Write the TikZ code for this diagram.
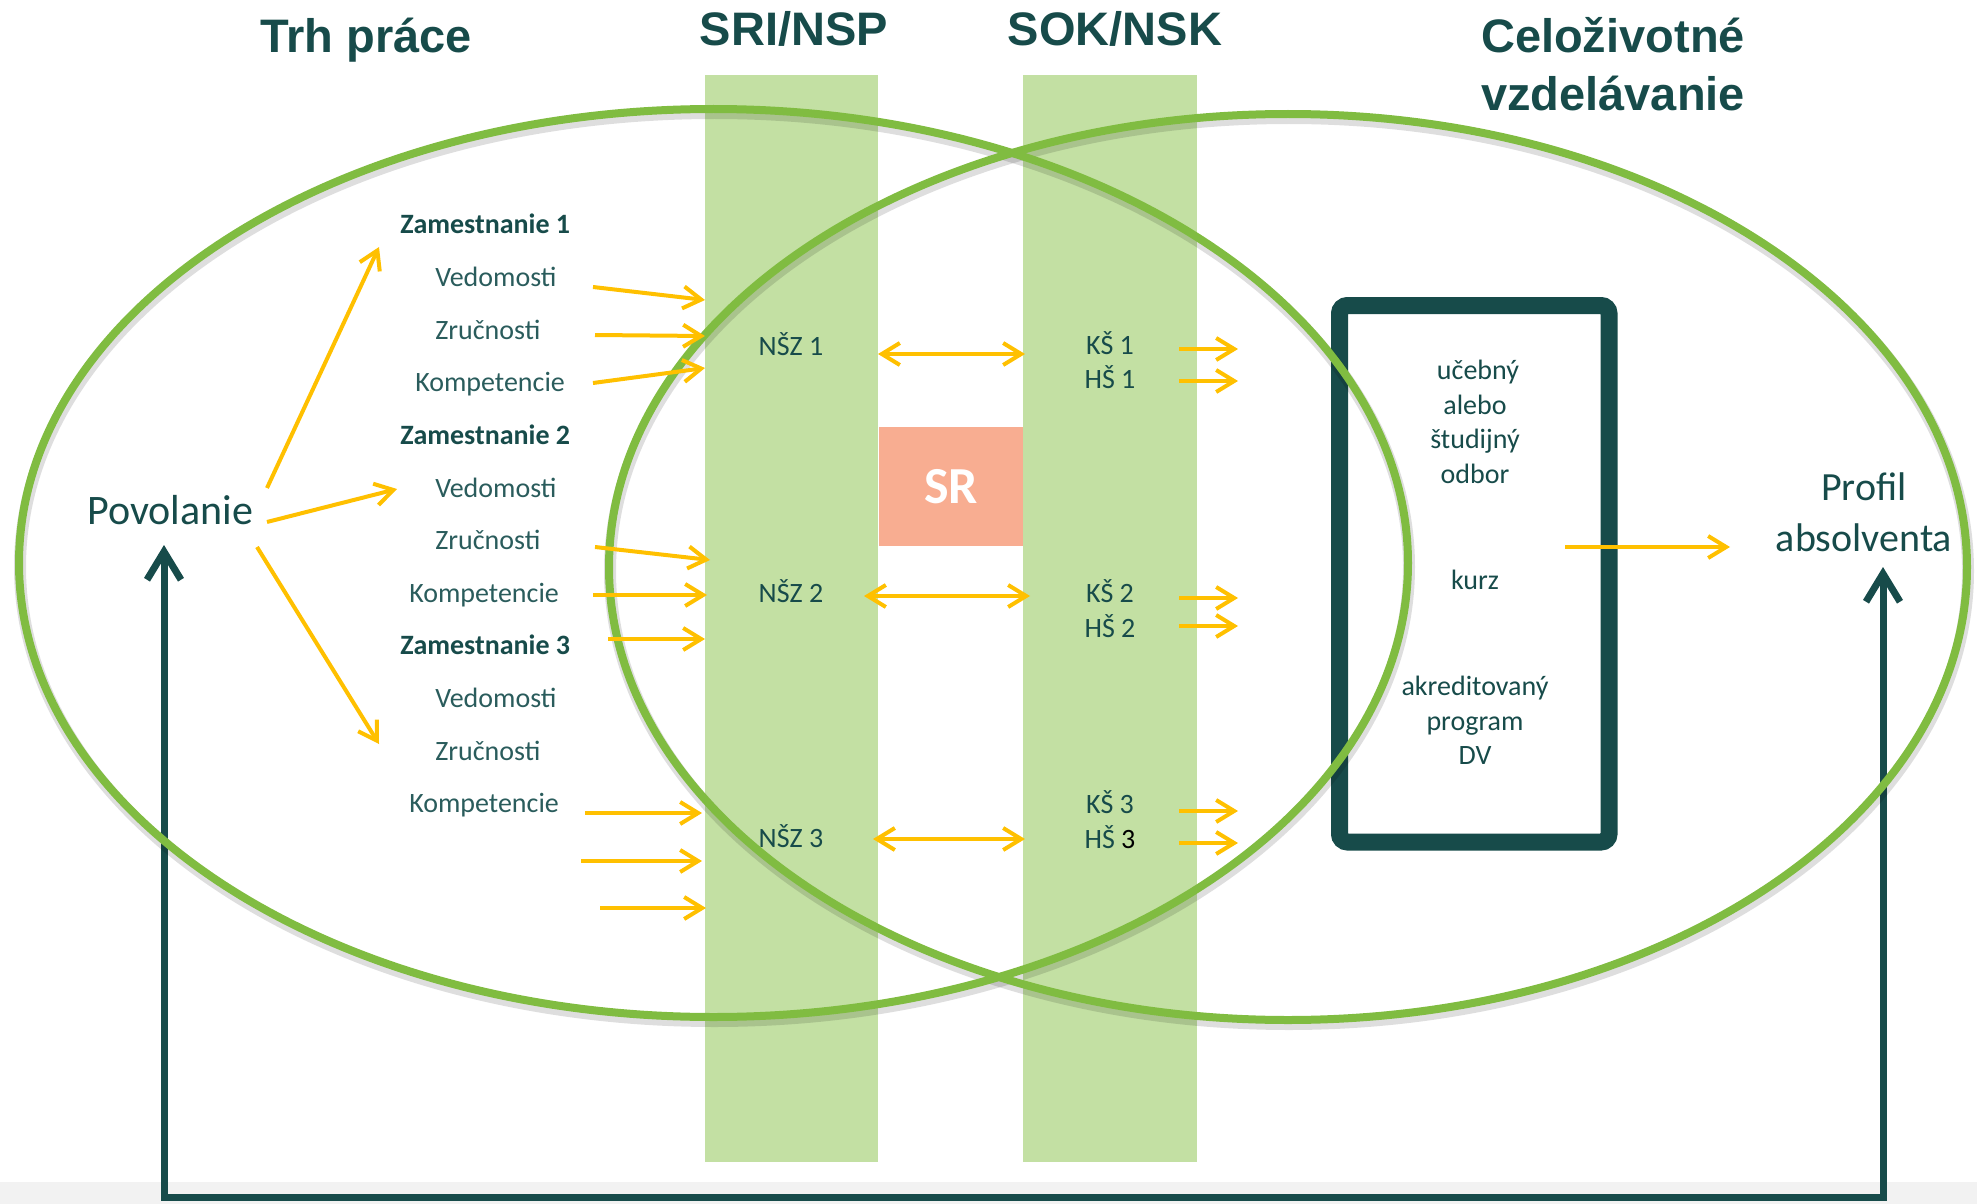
\documentclass[tikz,border=0pt]{standalone}
\usepackage{fontspec}
\setmainfont{Carlito}
\newfontfamily\headfont{Liberation Sans}
\usetikzlibrary{arrows.meta}

\tikzset{every picture/.style={line width=0.75pt}}
\definecolor{darkteal}{RGB}{23,75,74}
\definecolor{softteal}{RGB}{42,92,92}
\definecolor{ringgreen}{RGB}{128,188,65}
\definecolor{bargreen}{RGB}{195,224,163}
\definecolor{arrowgold}{RGB}{255,192,0}
\definecolor{salmon}{RGB}{248,173,145}

\tikzset{
  headtxt/.style={anchor=base, inner sep=0.75pt, font=\headfont\bfseries\fontsize{23.5}{28}\selectfont, color=darkteal},
  bodytxt/.style={anchor=base west, inner sep=0.75pt, font=\fontsize{14}{17}\selectfont, color=softteal},
  jobtxt/.style={bodytxt, font=\bfseries\fontsize{14}{17}\selectfont, color=darkteal},
  coltxt/.style={anchor=base, inner sep=0.75pt, font=\fontsize{14}{17}\selectfont, color=darkteal},
  bigtxt/.style={anchor=base, inner sep=0.75pt, font=\fontsize{20}{25}\selectfont, color=darkteal},
  goldarrow/.style={draw=arrowgold, line width=2pt, -{Straight Barb[length=9pt,width=11pt]}},
  goldboth/.style={goldarrow, {Straight Barb[length=9pt,width=11pt]}-{Straight Barb[length=9pt,width=11pt]}},
  backarrow/.style={draw=darkteal, line width=3.5pt, {Straight Barb[length=14pt,width=17pt]}-{Straight Barb[length=14pt,width=17pt]}},
  ring/.style={draw=ringgreen, line width=4pt},
  ringshade/.style={draw=black, opacity=0.13, line width=6pt},
}

\def \rowBase {234}
\def \rowStep {52.6}
\def \barTop {75}
\def \barBot {1162}
\def \inEnd {705}
\def \outXOne {1179}
\def \outXTwo {1238}

\begin{document}
\begin{tikzpicture}[x=0.5pt,y=0.5pt,yscale=-1,xscale=1]
\useasboundingbox (0,0) rectangle (1977,1204);

	%Shape: bottom band
	\fill [gray!10] (0,1182) rectangle (1977,1204);

	%Shape: columns
	\fill [bargreen] (705,\barTop) rectangle (878,\barBot);
	\fill [bargreen] (1023,\barTop) rectangle (1197,\barBot);

	%Shape: SR box
	\draw (951,486.5) node [fill=salmon, inner sep=0pt, minimum width=72pt, minimum height=59.5pt, text=white, font=\bfseries\fontsize{26}{30}\selectfont] (sr) {SR};

	%Shape: program box
	\draw (1474.25,573.75) node [draw=darkteal, line width=8.5pt, rounded corners=4pt, minimum width=134.75pt, minimum height=268.25pt] (prog) {};

	% Feedback connector
	\coordinate (fbL) at (164,545);
	\coordinate (fbLB) at (164,1197);
	\coordinate (fbRB) at (1883,1197);
	\coordinate (fbR) at (1883,567);
	\draw [backarrow] (fbL) -- (fbLB) -- (fbRB) -- (fbR);

	%Shape: Ellipses
	\draw [ringshade] (714.5,567) ellipse [x radius=694.5, y radius=454];
	\draw [ringshade] (1289,571) ellipse [x radius=679, y radius=453];
	\draw [ring] (713.5,563) ellipse [x radius=694.5, y radius=454];
	\draw [ring] (1288,567) ellipse [x radius=679, y radius=453];

	% Text Node: titles
	\draw (366,53) node [headtxt] (tTrh) {Trh práce};
	\draw (794,46) node [headtxt] (tSri) {SRI/NSP};
	\draw (1115,46) node [headtxt] (tSok) {SOK/NSK};
	\draw (1613,53) node [headtxt] (tCel) {Celoživotné};
	\draw (1613,111) node [headtxt] (tVzd) {vzdelávanie};

	% Text Node: Povolanie
	\draw (85,524) node [anchor=base west, inner sep=0.75pt, font=\fontsize{21}{25}\selectfont, color=darkteal] (pov) {Povolanie};

	% Text Node: jobs
	\draw (398,\rowBase) node [jobtxt] (zamA) {Zamestnanie 1};
	\draw (433,\rowBase+\rowStep) node [bodytxt] (vedA) {Vedomosti};
	\draw (433,\rowBase+\rowStep*2) node [bodytxt] (zruA) {Zručnosti};
	\draw (413,\rowBase+\rowStep*3) node [bodytxt] (komA) {Kompetencie};
	\draw (398,\rowBase+\rowStep*4) node [jobtxt] (zamB) {Zamestnanie 2};
	\draw (433,\rowBase+\rowStep*5) node [bodytxt] (vedB) {Vedomosti};
	\draw (433,\rowBase+\rowStep*6) node [bodytxt] (zruB) {Zručnosti};
	\draw (407,\rowBase+\rowStep*7) node [bodytxt] (komB) {Kompetencie};
	\draw (398,\rowBase+\rowStep*8) node [jobtxt] (zamC) {Zamestnanie 3};
	\draw (433,\rowBase+\rowStep*9) node [bodytxt] (vedC) {Vedomosti};
	\draw (433,\rowBase+\rowStep*10) node [bodytxt] (zruC) {Zručnosti};
	\draw (407,\rowBase+\rowStep*11) node [bodytxt] (komC) {Kompetencie};

	% Text Node: NSZ column
	\draw (791,355) node [coltxt] (nszA) {NŠZ 1};
	\draw (791,602) node [coltxt] (nszB) {NŠZ 2};
	\draw (791,847) node [coltxt] (nszC) {NŠZ 3};

	% Text Node: KS / HS column
	\draw (1110,354) node [coltxt] (ksA) {KŠ 1};
	\draw (1110,388) node [coltxt] (hsA) {HŠ 1};
	\draw (1110,602) node [coltxt] (ksB) {KŠ 2};
	\draw (1110,637) node [coltxt] (hsB) {HŠ 2};
	\draw (1110,813) node [coltxt] (ksC) {KŠ 3};
	\draw (1110,848) node [coltxt] (hsC) {HŠ \textcolor{black}{3}};

	% Text Node: program box
	\draw (1478,379) node [coltxt] (prgA) {učebný};
	\draw (1475,414) node [coltxt] (prgB) {alebo};
	\draw (1475,448) node [coltxt] (prgC) {študijný};
	\draw (1475,483) node [coltxt] (prgD) {odbor};
	\draw (1475,589) node [coltxt] (kurz) {kurz};
	\draw (1475,695) node [coltxt] (akrA) {akreditovaný};
	\draw (1475,730) node [coltxt] (akrB) {program};
	\draw (1475,764) node [coltxt] (akrC) {DV};

	% Text Node: Profil
	\draw (1864,500) node [bigtxt] (profA) {Profil};
	\draw (1864,551) node [bigtxt] (profB) {absolventa};

	% Povolanie arrows
	\coordinate (povU) at (267,488);
	\coordinate (povM) at (267,522);
	\coordinate (povD) at (257,547);
	\coordinate (tipU) at (379,247);
	\coordinate (tipM) at (397,489);
	\coordinate (tipD) at (379,744);
	\draw [goldarrow] (povU) -- (tipU);
	\draw [goldarrow] (povM) -- (tipM);
	\draw [goldarrow] (povD) -- (tipD);

	% Arrows into NSZ column
	\coordinate (inA1) at (593,287);  \coordinate (inA2) at (\inEnd,300);
	\coordinate (inB1) at (595,335);  \coordinate (inB2) at (\inEnd,336);
	\coordinate (inC1) at (593,383);  \coordinate (inC2) at (\inEnd,368);
	\coordinate (inD1) at (595,547);  \coordinate (inD2) at (\inEnd+5,560);
	\coordinate (inE1) at (593,595);  \coordinate (inE2) at (\inEnd+2,595);
	\coordinate (inF1) at (608,639);  \coordinate (inF2) at (\inEnd,639);
	\coordinate (inG1) at (585,813);  \coordinate (inG2) at (\inEnd-3,813);
	\coordinate (inH1) at (581,861);  \coordinate (inH2) at (\inEnd-3,861);
	\coordinate (inI1) at (600,908);  \coordinate (inI2) at (\inEnd+1,908);
	\draw [goldarrow] (inA1) -- (inA2);
	\draw [goldarrow] (inB1) -- (inB2);
	\draw [goldarrow] (inC1) -- (inC2);
	\draw [goldarrow] (inD1) -- (inD2);
	\draw [goldarrow] (inE1) -- (inE2);
	\draw [goldarrow] (inF1) -- (inF2);
	\draw [goldarrow] (inG1) -- (inG2);
	\draw [goldarrow] (inH1) -- (inH2);
	\draw [goldarrow] (inI1) -- (inI2);

	% Double arrows NSZ <-> KS
	\coordinate (lnA1) at (878,354);  \coordinate (lnA2) at (1025,354);
	\coordinate (lnB1) at (864,596);  \coordinate (lnB2) at (1030,596);
	\coordinate (lnC1) at (873,839);  \coordinate (lnC2) at (1025,839);
	\draw [goldboth] (lnA1) -- (lnA2);
	\draw [goldboth] (lnB1) -- (lnB2);
	\draw [goldboth] (lnC1) -- (lnC2);

	% Arrows out of KS / HS
	\coordinate (otA1) at (\outXOne,349);  \coordinate (otA2) at (\outXTwo,349);
	\coordinate (otB1) at (\outXOne,381);  \coordinate (otB2) at (\outXTwo,381);
	\coordinate (otC1) at (\outXOne,598);  \coordinate (otC2) at (\outXTwo,598);
	\coordinate (otD1) at (\outXOne,626);  \coordinate (otD2) at (\outXTwo,626);
	\coordinate (otE1) at (\outXOne,811);  \coordinate (otE2) at (\outXTwo,811);
	\coordinate (otF1) at (\outXOne,843);  \coordinate (otF2) at (\outXTwo,843);
	\draw [goldarrow] (otA1) -- (otA2);
	\draw [goldarrow] (otB1) -- (otB2);
	\draw [goldarrow] (otC1) -- (otC2);
	\draw [goldarrow] (otD1) -- (otD2);
	\draw [goldarrow] (otE1) -- (otE2);
	\draw [goldarrow] (otF1) -- (otF2);

	% Program box -> Profil
	\coordinate (prOut) at (1565,547);
	\coordinate (prIn) at (1730,547);
	\draw [goldarrow] (prOut) -- (prIn);

\end{tikzpicture}
\end{document}
